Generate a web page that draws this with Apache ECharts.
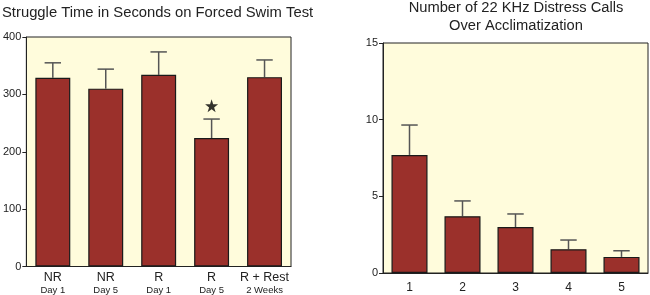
<!DOCTYPE html>
<html lang="en">
<head>
    <meta charset="UTF-8">
    <title>Forced Swim Test / Distress Calls</title>
    <script type="text/javascript" src="https://cdn.jsdelivr.net/npm/echarts@6/dist/echarts.min.js"></script>
    <style>
        html, body { margin: 0; padding: 0; background: #fff; }
    </style>
</head>
<body>
<div id="main" style="width:650px;height:295px;"></div>

<script type="text/javascript">
    // left panel: struggle time
    var swimCats = ['NR|Day 1', 'NR|Day 5', 'R|Day 1', 'R|Day 5', 'R + Rest|2 Weeks'];
    var swimMean = [329, 310, 334, 224, 330];
    var swimErrTop = [355, 344, 374, 257, 360];
    var starAt = [3, 280];

    // right panel: distress calls
    var callCats = ['1', '2', '3', '4', '5'];
    var callMean = [7.7, 3.7, 3.0, 1.55, 1.05];
    var callErrTop = [9.65, 4.7, 3.85, 2.15, 1.45];

    var barColor = '#9b302b';
    var plotBg = '#fffcdc';
    var font = 'Liberation Sans, Arial, sans-serif';

    // error bar renderer (upper whisker only)
    function errRender(params, api) {
        var x = api.value(0);
        var top = api.coord([x, api.value(2)]);
        var base = api.coord([x, api.value(1)]);
        var half = api.size([1, 0])[0] * 0.155;
        return {
            type: 'group',
            children: [
                { type: 'line', shape: { x1: top[0], y1: top[1], x2: base[0], y2: base[1] },
                  style: { stroke: '#555', lineWidth: 1.5 } },
                { type: 'line', shape: { x1: top[0] - half, y1: top[1], x2: top[0] + half, y2: top[1] },
                  style: { stroke: '#555', lineWidth: 1.5 } }
            ]
        };
    }

    function errData(mean, top) {
        var d = [];
        for (var i = 0; i < mean.length; i++) {
            d.push([i, mean[i], top[i]]);
        }
        return d;
    }

    var myChart = echarts.init(document.getElementById('main'));

    var option = {
        animation: false,
        title: [{
            text: 'Struggle Time in Seconds on Forced Swim Test',
            left: 2, top: 5, padding: 0,
            textStyle: { fontFamily: font, fontSize: 14.8, fontWeight: 'normal', color: '#222' }
        }, {
            text: 'Number of 22 KHz Distress Calls\nOver Acclimatization',
            left: 516, top: -1, padding: 0, textAlign: 'center',
            textStyle: { fontFamily: font, fontSize: 14.7, fontWeight: 'normal', color: '#222', lineHeight: 18 }
        }],
        grid: [{
            left: 25, top: 37, width: 266, height: 230,
            show: true, backgroundColor: plotBg, borderColor: '#222', borderWidth: 1
        }, {
            left: 383, top: 43, width: 265, height: 230,
            show: true, backgroundColor: plotBg, borderColor: '#222', borderWidth: 1
        }],
        xAxis: [{
            type: 'category', gridIndex: 0, data: swimCats,
            axisLine: { lineStyle: { color: '#222' } },
            axisTick: { alignWithLabel: true, length: 4, lineStyle: { color: '#222' } },
            axisLabel: {
                margin: 5, interval: 0,
                formatter: function (v) {
                    var p = v.split('|');
                    return '{a|' + p[0] + '}\n{b|' + p[1] + '}';
                },
                rich: {
                    a: { fontFamily: font, fontSize: 12.5, color: '#222', lineHeight: 13 },
                    b: { fontFamily: font, fontSize: 9.5, color: '#222', lineHeight: 11 }
                }
            }
        }, {
            type: 'category', gridIndex: 1, data: callCats,
            axisLine: { lineStyle: { color: '#222' } },
            axisTick: { alignWithLabel: true, length: 4, lineStyle: { color: '#222' } },
            axisLabel: { margin: 9, fontFamily: font, fontSize: 12, color: '#222' }
        }],
        yAxis: [{
            type: 'value', gridIndex: 0, min: 0, max: 400, interval: 100,
            splitLine: { show: false },
            axisLine: { show: true, lineStyle: { color: '#222' } },
            axisTick: { show: true, length: 4, lineStyle: { color: '#222' } },
            axisLabel: { margin: 5, fontFamily: font, fontSize: 11, color: '#222' }
        }, {
            type: 'value', gridIndex: 1, min: 0, max: 15, interval: 5,
            splitLine: { show: false },
            axisLine: { show: true, lineStyle: { color: '#222' } },
            axisTick: { show: true, length: 4, lineStyle: { color: '#222' } },
            axisLabel: { margin: 5, fontFamily: font, fontSize: 11, color: '#222' }
        }],
        series: [{
            type: 'bar', xAxisIndex: 0, yAxisIndex: 0, data: swimMean,
            barCategoryGap: '34%',
            itemStyle: { color: barColor, borderColor: '#1a1a1a', borderWidth: 1.2 },
            z: 2
        }, {
            type: 'custom', xAxisIndex: 0, yAxisIndex: 0,
            data: errData(swimMean, swimErrTop),
            renderItem: errRender, z: 1
        }, {
            type: 'scatter', xAxisIndex: 0, yAxisIndex: 0,
            data: [starAt],
            symbol: 'path://M50,0 L61.8,35.5 L99,35.5 L69,57.5 L80.4,93 L50,71 L19.6,93 L31,57.5 L1,35.5 L38.2,35.5 Z',
            symbolSize: 13,
            itemStyle: { color: '#000' }
        }, {
            type: 'bar', xAxisIndex: 1, yAxisIndex: 1, data: callMean,
            barCategoryGap: '32%',
            itemStyle: { color: barColor, borderColor: '#1a1a1a', borderWidth: 1.2 },
            z: 2
        }, {
            type: 'custom', xAxisIndex: 1, yAxisIndex: 1,
            data: errData(callMean, callErrTop),
            renderItem: errRender, z: 1
        }]
    };

    myChart.setOption(option);
</script>
</body>
</html>
